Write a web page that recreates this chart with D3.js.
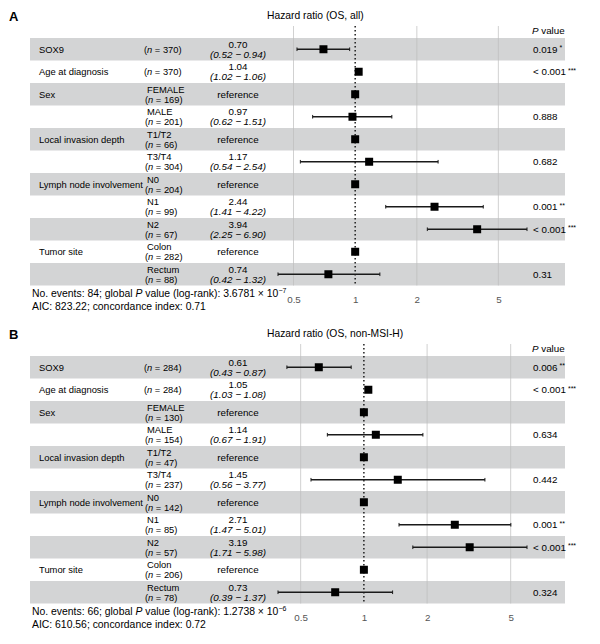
<!DOCTYPE html>
<html><head><meta charset="utf-8">
<script src="https://cdn.jsdelivr.net/npm/d3@7"></script>
<style>body{margin:0;background:#fff}svg{font-family:"Liberation Sans",Arial,Helvetica,sans-serif}</style>
</head><body>
<svg id="c" width="600" height="644"></svg>
<script>
const variables = ["SOX9","Age at diagnosis","Sex","","Local invasion depth","","Lymph node involvement","","","Tumor site",""];
const levels = ["","","FEMALE","MALE","T1/T2","T3/T4","N0","N1","N2","Colon","Rectum"];
const ticks = [0.5,1,2,5];

const nA = [370,370,169,201,66,304,204,99,67,282,88];
const hrA = [0.70,1.04,1,0.97,1,1.17,1,2.44,3.94,1,0.74];
const loA = [0.52,1.02,null,0.62,null,0.54,null,1.41,2.25,null,0.42];
const hiA = [0.94,1.06,null,1.51,null,2.54,null,4.22,6.90,null,1.32];
const pA = ["0.019","< 0.001","","0.888","","0.682","","0.001","< 0.001","","0.31"];
const starsA = ["*","***","","","","","","**","***","",""];

const nB = [284,284,130,154,47,237,142,85,57,206,78];
const hrB = [0.61,1.05,1,1.14,1,1.45,1,2.71,3.19,1,0.73];
const loB = [0.43,1.03,null,0.67,null,0.56,null,1.47,1.71,null,0.39];
const hiB = [0.87,1.08,null,1.91,null,3.77,null,5.01,5.98,null,1.37];
const pB = ["0.006","< 0.001","","0.634","","0.442","","0.001","< 0.001","","0.324"];
const starsB = ["**","***","","","","","","**","***","",""];

const svg = d3.select("#c");

function panel(y0, letter, title, n, hr, lo, hi, p, stars, events, gp, gexp, aic, conc){
  const g = svg.append("g").attr("transform", `translate(0,${y0})`);
  const rowTop = 38, rowH = 22.5, nr = hr.length;
  const y = d3.scaleBand().domain(d3.range(nr)).range([rowTop, rowTop + rowH*nr]).padding(0);
  const x = d3.scaleLog().domain([d3.min(lo.filter(v=>v!=null)), d3.max(hi.filter(v=>v!=null))]).range([278, 527]);
  const bottom = rowTop + rowH*nr;
  const off = 5;

  g.append("text").attr("x", 9).attr("y", 21).attr("font-weight","bold").attr("font-size",13).text(letter);
  g.append("text").attr("x", 267).attr("y", 19).attr("font-size",10.3).text(title);
  const ph = g.append("text").attr("x", 532).attr("y", 34).attr("font-size",9.8);
  ph.append("tspan").attr("font-style","italic").text("P");
  ph.append("tspan").text(" value");

  g.selectAll("rect.band").data(d3.range(nr).filter(i=>i%2===0)).join("rect")
    .attr("x",30).attr("width",535).attr("y",i=>y(i)).attr("height",y.bandwidth()).attr("fill","#d3d4d5");

  g.selectAll("line.grid").data(ticks.filter(t=>t!==1)).join("line")
    .attr("x1",d=>x(d)).attr("x2",d=>x(d)).attr("y1",26).attr("y2",bottom)
    .attr("stroke","#bdbdbd").attr("stroke-width",0.7);
  g.append("line").attr("x1",x(1)).attr("x2",x(1)).attr("y1",26).attr("y2",bottom)
    .attr("stroke","#111").attr("stroke-width",1.4).attr("stroke-dasharray","1.4,2.6");

  const ax = d3.axisBottom(x).tickValues(ticks).tickFormat(d3.format("")).tickSize(0);
  const axg = g.append("g").attr("transform",`translate(0,${bottom+12})`).call(ax);
  axg.select(".domain").remove();
  axg.selectAll("text").attr("fill","#555").attr("font-size",9.8).attr("dy","0.3em");

  const nText = (xx, yy, v) => {
    const t = g.append("text").attr("x",xx).attr("y",yy).attr("dy","0.35em").attr("font-size",9.3);
    t.append("tspan").text("(");
    t.append("tspan").attr("font-style","italic").text("n");
    t.append("tspan").text(" = " + v + ")");
  };

  d3.range(nr).forEach(i=>{
    const cy = y(i) + rowH/2;
    if (variables[i]) g.append("text").attr("x",39).attr("y",cy).attr("dy","0.35em").attr("font-size",9.4).text(variables[i]);
    if (levels[i]) {
      g.append("text").attr("x",147).attr("y",cy-off).attr("dy","0.35em").attr("font-size",9.4).text(levels[i]);
      nText(145, cy+off, n[i]);
    } else {
      nText(144, cy, n[i]);
    }
    if (lo[i] == null) {
      g.append("text").attr("x",238).attr("y",cy).attr("dy","0.35em").attr("text-anchor","middle").attr("font-size",9.8).text("reference");
    } else {
      g.append("text").attr("x",238).attr("y",cy-off).attr("dy","0.35em").attr("text-anchor","middle").attr("font-size",9.8).text(hr[i].toFixed(2));
      g.append("text").attr("x",238).attr("y",cy+off).attr("dy","0.35em").attr("text-anchor","middle").attr("font-size",9.8).attr("font-style","italic")
        .text("(" + lo[i].toFixed(2) + " \u2212 " + hi[i].toFixed(2) + ")");
    }
    if (p[i]) {
      const t = g.append("text").attr("x",533).attr("y",cy).attr("dy","0.35em").attr("font-size",9.8).text(p[i]);
      if (stars[i]) t.append("tspan").attr("font-size",7).attr("dy","-0.35em").text(" " + stars[i]);
    }
    if (lo[i] != null) {
      g.append("line").attr("x1",x(lo[i])).attr("x2",x(hi[i])).attr("y1",cy).attr("y2",cy).attr("stroke","#1a1a1a").attr("stroke-width",1.3);
      [lo[i],hi[i]].forEach(v=>g.append("line").attr("x1",x(v)).attr("x2",x(v)).attr("y1",cy-1.8).attr("y2",cy+1.8).attr("stroke","#1a1a1a").attr("stroke-width",1));
    }
    g.append("rect").attr("x",x(hr[i])-4).attr("y",cy-4).attr("width",8).attr("height",8).attr("fill","#000");
  });

  const f1 = g.append("text").attr("x",32).attr("y",bottom+11).attr("font-size",10.4);
  f1.append("tspan").text("No. events: " + events + "; global ");
  f1.append("tspan").attr("font-style","italic").text("P");
  f1.append("tspan").text(" value (log-rank): " + gp + " \u00d7 10");
  f1.append("tspan").attr("font-size",7).attr("dy","-0.5em").text("\u2212" + gexp);
  const f2 = g.append("text").attr("x",32).attr("y",bottom+24).attr("font-size",10.4);
  f2.text("AIC: " + aic + "; concordance index: " + conc);
}

panel(0, "A", "Hazard ratio (OS, all)", nA, hrA, loA, hiA, pA, starsA, 84, "3.6781", 7, "823.22", "0.71");
panel(318, "B", "Hazard ratio (OS, non-MSI-H)", nB, hrB, loB, hiB, pB, starsB, 66, "1.2738", 6, "610.56", "0.72");
</script>
</body></html>
